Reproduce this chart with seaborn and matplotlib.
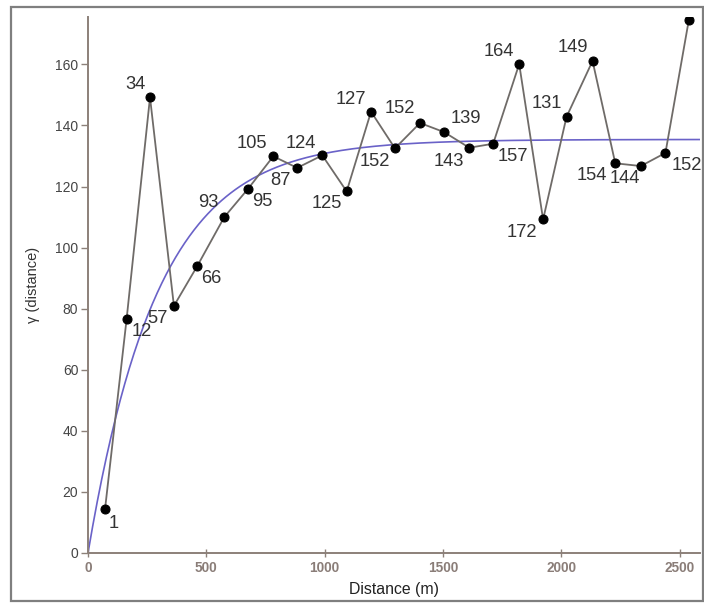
import matplotlib
matplotlib.use("Agg")
import matplotlib.pyplot as plt
import numpy as np
import pandas as pd
import seaborn as sns
from matplotlib.patches import Rectangle

# experimental semivariogram (lag centre, semivariance, number of pairs)
lag_distance = [72, 163, 262, 363, 462, 576, 677, 783, 884, 990, 1093, 1196, 1297,
                1403, 1505, 1611, 1712, 1822, 1923, 2022, 2132, 2228, 2336, 2440, 2539]
semivariance = [14.4, 76.5, 149.2, 80.9, 94.0, 110.0, 119.3, 129.9, 126.1, 130.2, 118.4,
                144.5, 132.5, 140.8, 137.8, 132.7, 134.0, 160.1, 109.2, 142.8, 161.1,
                127.6, 126.7, 131.0, 174.6]
pair_counts = ["1", "12", "34", "57", "66", "93", "95", "105", "87", "124", "125", "127",
               "152", "152", "139", "143", "157", "164", "172", "131", "149", "154",
               "144", "152", ""]

# fitted exponential model
model_sill = 135.4
model_range = 295.0

x_ticks = [0, 500, 1000, 1500, 2000, 2500]
y_ticks = [0, 20, 40, 60, 80, 100, 120, 140, 160]

# label offsets in pixels (dx right, dy down)
label_offsets = [(9, 14), (15, 12), (-15, -13), (-16, 13), (14, 13), (-16, -15), (14, 13),
                 (-21, -13), (-17, 13), (-21, -12), (-20, 12), (-20, -12), (-20, 13),
                 (-20, -14), (22, -14), (-20, 14), (20, 13), (-20, -13), (-21, 13),
                 (-20, -13), (-20, -13), (-23, 12), (-16, 12), (21, 13), (0, 0)]


def main():
    sns.set_theme(style="white")
    plt.rcParams['font.family'] = ['Liberation Sans', 'DejaVu Sans']

    df = pd.DataFrame({'lag': lag_distance, 'gamma': semivariance})
    h = np.linspace(0, 2590, 400)
    model = pd.DataFrame({'lag': h, 'gamma': model_sill * (1 - np.exp(-h / model_range))})

    fig = plt.figure(figsize=(7.04, 6.06), dpi=100)
    ax = fig.add_axes([88 / 704, 1 - 553 / 606, 612 / 704, 536 / 606])

    sns.lineplot(data=model, x='lag', y='gamma', ax=ax, color='#6a62c8', linewidth=1.2,
                 zorder=2)
    sns.lineplot(data=df, x='lag', y='gamma', ax=ax, color='#6f6b68', linewidth=1.3,
                 marker='o', markersize=6.5, markerfacecolor='black',
                 markeredgecolor='black', sort=False, zorder=3)

    for x, y, lab, (dx, dy) in zip(lag_distance, semivariance, pair_counts, label_offsets):
        if lab:
            ax.annotate(lab, (x, y), xytext=(dx, -dy), textcoords='offset pixels',
                        ha='center', va='center', fontsize=13.2, color='#333333')

    ax.set_xlim(0, 2586)
    ax.set_ylim(0, 175.5)
    ax.set_xticks(x_ticks)
    ax.set_yticks(y_ticks)

    for side in ['top', 'right']:
        ax.spines[side].set_visible(False)
    for side in ['left', 'bottom']:
        ax.spines[side].set_color('#8c8079')
        ax.spines[side].set_linewidth(1.4)

    ax.tick_params(axis='y', direction='out', length=5, width=1, color='#8c8079',
                   labelsize=10, labelcolor='#444444', pad=2, left=True)
    ax.tick_params(axis='x', direction='inout', length=6, width=1, color='#8c8079',
                   labelsize=9.8, labelcolor='#8a7d78', pad=3, bottom=True)
    for t in ax.get_xticklabels():
        t.set_fontweight('bold')

    ax.set_xlabel('Distance (m)', fontsize=11.4, color='#222222', labelpad=5)
    ax.set_ylabel('γ (distance)', fontsize=10.5, color='#333333', labelpad=11)
    ax.grid(False)

    # grey frame around the picture
    fig.patches.append(Rectangle((11 / 704, 1 - 601 / 606), 692 / 704, 594 / 606,
                                 transform=fig.transFigure, fill=False,
                                 edgecolor='#7f7f7f', linewidth=1.6))

    fig.savefig('out.png', dpi=100)
    plt.close(fig)


if __name__ == '__main__':
    main()
